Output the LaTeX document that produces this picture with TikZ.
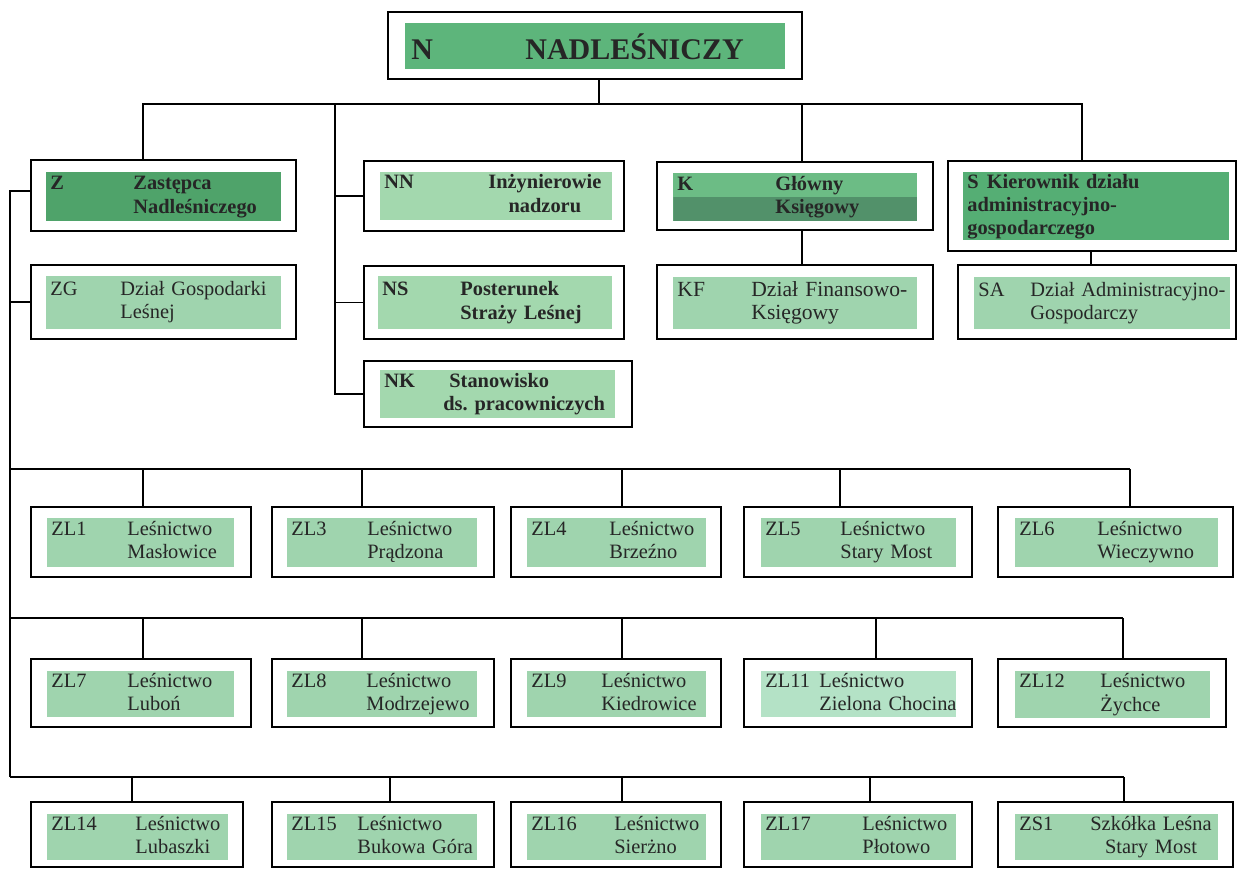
\documentclass[tikz,border=0pt]{standalone}
\usepackage{fontspec}
\setmainfont{Liberation Serif}
\usetikzlibrary{positioning, calc}

\definecolor{panelight}{HTML}{9FD4AE}
\definecolor{panepale}{HTML}{B4E2C6}
\definecolor{panebright}{HTML}{A3D8AE}
\definecolor{panemid}{HTML}{5DB57B}
\definecolor{panedeep}{HTML}{4FA36A}
\definecolor{panes}{HTML}{55AE74}
\definecolor{kupper}{HTML}{6CBC85}
\definecolor{klower}{HTML}{52916A}

\begin{document}
\begin{tikzpicture}[
    x=0.5pt, y=-0.5pt,
    frame/.style={rectangle, draw=black, line width=1pt, fill=white, inner sep=0pt, outer sep=0pt, anchor=north west},
    pane/.style={rectangle, fill=#1, anchor=north west, inner xsep=2pt, inner ysep=0pt, align=left, text=black!85, font=\fontsize{10.2}{11.5}\selectfont},
    panebold/.style={pane=#1, font=\fontsize{10.2}{11.8}\selectfont\bfseries},
    link/.style={draw=black, line width=0.75pt},
  ]
  \useasboundingbox (0,0) rectangle (1237,871);

  % kierownictwo
  \node[frame, minimum width=207pt, minimum height=33.5pt] (n) at (388,12) {};
  \node[panebold=panemid, text width=186pt, minimum height=23pt, font=\fontsize{15}{18}\selectfont\bfseries] (npane) at (405,23) {\hspace*{1pt}\makebox[57pt][l]{N}NADLEŚNICZY};

  \node[frame, minimum width=132.5pt, minimum height=35.5pt] (z) at (31,160) {};
  \node[panebold=panedeep, text width=113.5pt, minimum height=24.5pt] (zpane) at (46,172) {\makebox[41.5pt][l]{Z}\begin{tabular}[t]{@{}l@{}}Zastępca\\Nadleśniczego\end{tabular}};

  \node[frame, minimum width=130pt, minimum height=35pt] (nn) at (364,161) {};
  \node[panebold=panebright, text width=112pt, minimum height=23.5pt] (nnpane) at (380,172) {\makebox[52pt][l]{NN}\begin{tabular}[t]{@{}c@{}}Inżynierowie\\nadzoru\end{tabular}};

  \node[frame, minimum width=138pt, minimum height=34pt] (k) at (657,162) {};
  \node[panebold=kupper, text width=118pt, minimum height=24pt,
        path picture={\fill[klower] (path picture bounding box.west) rectangle (path picture bounding box.south east);}] (kpane) at (673,173) {\makebox[49pt][l]{K}\begin{tabular}[t]{@{}l@{}}Główny\\Księgowy\end{tabular}};

  \node[frame, minimum width=144pt, minimum height=45pt] (s) at (948,161) {};
  \node[panebold=panes, text width=129pt, minimum height=34pt, font=\fontsize{10.2}{11.4}\selectfont\bfseries] (spane) at (963,172) {S\hspace{4pt}Kierownik działu\\administracyjno-\\gospodarczego};

  % działy
  \node[frame, minimum width=132.5pt, minimum height=37pt] (zg) at (31,265) {};
  \node[pane=panelight, text width=113.5pt, minimum height=26.5pt] (zgpane) at (46,276) {\makebox[35pt][l]{ZG}\begin{tabular}[t]{@{}l@{}}Dział Gospodarki\\Leśnej\end{tabular}};

  \node[frame, minimum width=130pt, minimum height=36.5pt] (ns) at (364,266) {};
  \node[panebold=panebright, text width=113pt, minimum height=26.5pt] (nspane) at (378,276) {\makebox[39pt][l]{NS}\begin{tabular}[t]{@{}l@{}}Posterunek\\Straży Leśnej\end{tabular}};

  \node[frame, minimum width=138pt, minimum height=37pt] (kf) at (657,265) {};
  \node[pane=panelight, text width=118pt, minimum height=26pt, font=\fontsize{10.8}{11.8}\selectfont] (kfpane) at (673,277) {\makebox[37pt][l]{KF}\begin{tabular}[t]{@{}l@{}}Dział Finansowo-\\Księgowy\end{tabular}};

  \node[frame, minimum width=139pt, minimum height=37pt] (sa) at (958,265) {};
  \node[pane=panelight, text width=124pt, minimum height=26pt] (sapane) at (974,277) {\makebox[26pt][l]{SA}\begin{tabular}[t]{@{}l@{}}Dział Administracyjno-\\Gospodarczy\end{tabular}};

  \node[frame, minimum width=134pt, minimum height=33pt] (nk) at (364,361) {};
  \node[panebold=panebright, text width=113.5pt, minimum height=24pt] (nkpane) at (380,370) {\makebox[29.5pt][l]{NK}\begin{tabular}[t]{@{}l@{}}\hspace*{3pt}Stanowisko\\ds.\ pracowniczych\end{tabular}};

  % leśnictwa, rząd 1
  \node[frame, minimum width=110pt, minimum height=35pt] (zl1) at (31,507) {};
  \node[pane=panelight, text width=89.5pt, minimum height=24.5pt] at (47,518) {\makebox[38pt][l]{ZL1}\begin{tabular}[t]{@{}l@{}}Leśnictwo\\Masłowice\end{tabular}};
  \node[frame, minimum width=111pt, minimum height=35pt] (zl3) at (272,507) {};
  \node[pane=panelight, text width=91pt, minimum height=24.5pt] at (287,518) {\makebox[38pt][l]{ZL3}\begin{tabular}[t]{@{}l@{}}Leśnictwo\\Prądzona\end{tabular}};
  \node[frame, minimum width=105pt, minimum height=35pt] (zl4) at (511,507) {};
  \node[pane=panelight, text width=85.5pt, minimum height=24.5pt] at (527,518) {\makebox[39pt][l]{ZL4}\begin{tabular}[t]{@{}l@{}}Leśnictwo\\Brzeźno\end{tabular}};
  \node[frame, minimum width=114pt, minimum height=35pt] (zl5) at (744,507) {};
  \node[pane=panelight, text width=93.5pt, minimum height=24.5pt] at (761,518) {\makebox[37.5pt][l]{ZL5}\begin{tabular}[t]{@{}l@{}}Leśnictwo\\Stary Most\end{tabular}};
  \node[frame, minimum width=117.5pt, minimum height=35pt] (zl6) at (998,507) {};
  \node[pane=panelight, text width=97.5pt, minimum height=24.5pt] at (1015,518) {\makebox[39pt][l]{ZL6}\begin{tabular}[t]{@{}l@{}}Leśnictwo\\Wieczywno\end{tabular}};

  % rząd 2
  \node[frame, minimum width=110pt, minimum height=34pt] (zl7) at (31,659) {};
  \node[pane=panelight, text width=89.5pt, minimum height=22.5pt] at (47,671) {\makebox[38pt][l]{ZL7}\begin{tabular}[t]{@{}l@{}}Leśnictwo\\Luboń\end{tabular}};
  \node[frame, minimum width=111pt, minimum height=34pt] (zl8) at (272,659) {};
  \node[pane=panelight, text width=91pt, minimum height=22.5pt] at (287,671) {\makebox[37.5pt][l]{ZL8}\begin{tabular}[t]{@{}l@{}}Leśnictwo\\Modrzejewo\end{tabular}};
  \node[frame, minimum width=105pt, minimum height=34pt] (zl9) at (511,659) {};
  \node[pane=panelight, text width=85.5pt, minimum height=22.5pt] at (527,671) {\makebox[35pt][l]{ZL9}\begin{tabular}[t]{@{}l@{}}Leśnictwo\\Kiedrowice\end{tabular}};
  \node[frame, minimum width=114pt, minimum height=34pt] (zl11) at (744,659) {};
  \node[pane=panepale, text width=93.5pt, minimum height=22.5pt] at (761,671) {\makebox[27pt][l]{ZL11}\begin{tabular}[t]{@{}l@{}}Leśnictwo\\Zielona Chocina\end{tabular}};
  \node[frame, minimum width=114pt, minimum height=34pt] (zl12) at (998,659) {};
  \node[pane=panelight, text width=93.5pt, minimum height=22.5pt] at (1015,671) {\makebox[40.5pt][l]{ZL12}\begin{tabular}[t]{@{}l@{}}Leśnictwo\\Żychce\end{tabular}};

  % rząd 3
  \node[frame, minimum width=106pt, minimum height=32.5pt] (zl14) at (31,802) {};
  \node[pane=panelight, text width=86.5pt, minimum height=21.5pt] at (47,814) {\makebox[42pt][l]{ZL14}\begin{tabular}[t]{@{}l@{}}Leśnictwo\\Lubaszki\end{tabular}};
  \node[frame, minimum width=111pt, minimum height=32.5pt] (zl15) at (272,802) {};
  \node[pane=panelight, text width=91pt, minimum height=21.5pt] at (287,814) {\makebox[33pt][l]{ZL15}\begin{tabular}[t]{@{}l@{}}Leśnictwo\\Bukowa Góra\end{tabular}};
  \node[frame, minimum width=105pt, minimum height=32.5pt] (zl16) at (511,802) {};
  \node[pane=panelight, text width=85.5pt, minimum height=21.5pt] at (527,814) {\makebox[41.5pt][l]{ZL16}\begin{tabular}[t]{@{}l@{}}Leśnictwo\\Sierżno\end{tabular}};
  \node[frame, minimum width=114pt, minimum height=32.5pt] (zl17) at (744,802) {};
  \node[pane=panelight, text width=93.5pt, minimum height=21.5pt] at (761,814) {\makebox[48.5pt][l]{ZL17}\begin{tabular}[t]{@{}l@{}}Leśnictwo\\Płotowo\end{tabular}};
  \node[frame, minimum width=117.5pt, minimum height=32.5pt] (zs1) at (998,802) {};
  \node[pane=panelight, text width=97.5pt, minimum height=21.5pt] at (1015,814) {\makebox[35.5pt][l]{ZS1}\begin{tabular}[t]{@{}c@{}}Szkółka Leśna\\Stary Most\end{tabular}};

  % połączenia
  \coordinate (hub) at (599,104);
  \coordinate (tz) at (143,104);
  \coordinate (tn) at (335,104);
  \coordinate (tk) at (802,104);
  \coordinate (ts) at (1082,104);
  \coordinate (tsa) at (1091,251);
  \draw[link] (hub |- n.south) -- (hub);
  \draw[link] (tz |- z.north) -- (tz) -- (ts) -- (ts |- s.north);
  \draw[link] (tk) -- (tk |- k.north);
  \draw[link] (tk |- k.south) -- (tk |- kf.north);
  \draw[link] (tsa |- s.south) -- (tsa |- sa.north);
  \draw[link] (tn) |- (nk.west);
  \draw[link] (tn |- nn.west) -- (nn.west);
  \draw[link] (tn |- ns.west) -- (ns.west);

  \coordinate (zj) at (10,191);
  \coordinate (spine) at (10,777);
  \draw[link] (zj -| z.west) -- (zj) -- (spine);
  \draw[link] (zg.west) -- (zg.west -| spine);

  \coordinate (bus1) at (10,469);
  \coordinate (bus1end) at (1130,469);
  \coordinate (bus2) at (10,618);
  \coordinate (bus2end) at (1123,618);
  \coordinate (bus3end) at (1124,777);
  \draw[link] (bus1) -- (bus1end);
  \draw[link] (bus2) -- (bus2end);
  \draw[link] (spine) -- (bus3end);
  \foreach \unit/\xx in {zl1/143, zl3/362, zl4/622, zl5/840, zl6/1130} {
    \coordinate (drop) at (\xx,469);
    \draw[link] (drop) -- (drop |- \unit.north);
  }
  \foreach \unit/\xx in {zl7/143, zl8/362, zl9/622, zl11/876, zl12/1123} {
    \coordinate (drop) at (\xx,618);
    \draw[link] (drop) -- (drop |- \unit.north);
  }
  \foreach \unit/\xx in {zl14/132, zl15/390, zl16/622, zl17/870, zs1/1124} {
    \coordinate (drop) at (\xx,777);
    \draw[link] (drop) -- (drop |- \unit.north);
  }
\end{tikzpicture}
\end{document}
